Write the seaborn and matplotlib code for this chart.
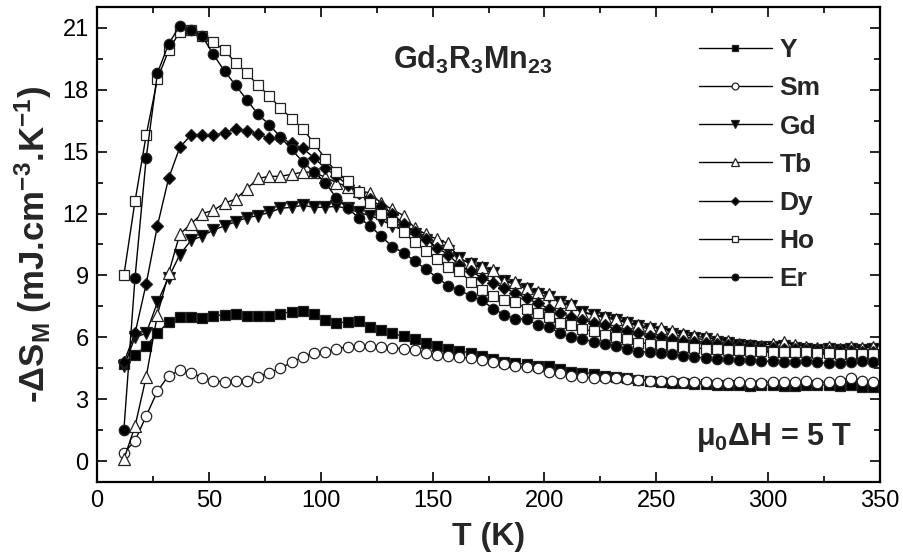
import pandas as pd
import seaborn as sns
import matplotlib.pyplot as plt
from matplotlib.ticker import MultipleLocator

# Temperatures (K), one point every 5 K
temps = list(range(12, 348, 5))

y_vals = [4.7, 5.15, 5.6, 6.2, 6.75, 7.0, 7.0, 6.95, 7.05, 7.1, 7.15, 7.05, 7.05, 7.05, 7.15, 7.25,
          7.3, 7.15, 6.85, 6.7, 6.75, 6.8, 6.5, 6.35, 6.2, 6.05, 5.9, 5.75, 5.6, 5.45, 5.35, 5.25,
          5.1, 4.95, 4.8, 4.75, 4.7, 4.6, 4.6, 4.45, 4.35, 4.3, 4.25, 4.15, 4.1, 4.05, 3.95, 3.9,
          3.85, 3.8, 3.8, 3.75, 3.75, 3.7, 3.7, 3.7, 3.65, 3.7, 3.7, 3.65, 3.65, 3.7, 3.7, 3.7,
          3.65, 3.7, 3.6, 3.6]
sm_vals = [0.4, 1.0, 2.2, 3.4, 4.15, 4.4, 4.3, 4.05, 3.9, 3.85, 3.9, 3.9, 4.1, 4.3, 4.5, 4.8,
           5.05, 5.25, 5.3, 5.45, 5.55, 5.6, 5.6, 5.55, 5.5, 5.45, 5.4, 5.25, 5.15, 5.1, 5.05, 5.0,
           4.9, 4.8, 4.7, 4.6, 4.55, 4.5, 4.35, 4.3, 4.15, 4.1, 4.05, 4.05, 4.05, 4.0, 3.95, 3.9,
           3.9, 3.9, 3.85, 3.85, 3.85, 3.8, 3.8, 3.85, 3.8, 3.8, 3.85, 3.85, 3.85, 3.9, 3.8, 3.85,
           3.9, 4.05, 3.9, 3.85]
gd_vals = [4.6, 6.0, 6.2, 7.7, 8.9, 10.0, 10.7, 10.9, 11.2, 11.4, 11.6, 11.8, 11.9, 12.05, 12.25, 12.3,
           12.4, 12.3, 12.3, 12.35, 12.25, 12.05, 11.9, 11.7, 11.4, 11.2, 11.0, 10.7, 10.45, 10.2, 9.85, 9.55,
           9.35, 9.1, 8.75, 8.55, 8.35, 8.1, 7.95, 7.7, 7.5, 7.25, 7.1, 6.95, 6.85, 6.7, 6.55, 6.4,
           6.25, 6.15, 6.05, 5.95, 5.9, 5.8, 5.75, 5.65, 5.6, 5.55, 5.55, 5.6, 5.5, 5.45, 5.4, 5.45,
           5.4, 5.45, 5.4, 5.45]
tb_vals = [0.1, 1.7, 4.1, 7.1, 9.1, 11.0, 11.5, 12.0, 12.15, 12.5, 12.7, 13.2, 13.7, 13.8, 13.8, 13.9,
           14.0, 14.0, 13.75, 13.5, 13.3, 13.1, 13.0, 12.5, 12.2, 11.9, 11.3, 11.0, 10.75, 10.55, 9.8, 9.6,
           9.4, 9.25, 8.7, 8.7, 8.4, 8.2, 8.1, 7.7, 7.6, 7.2, 7.1, 7.0, 6.9, 6.75, 6.6, 6.5,
           6.45, 6.3, 6.15, 6.05, 6.0, 5.9, 5.85, 5.7, 5.65, 5.6, 5.7, 5.8, 5.65, 5.55, 5.5, 5.55,
           5.45, 5.55, 5.5, 5.55]
dy_vals = [4.8, 6.2, 8.6, 11.4, 13.7, 15.2, 15.8, 15.8, 15.8, 15.9, 16.1, 16.0, 15.85, 15.65, 15.65, 15.4,
           15.15, 14.7, 14.2, 13.8, 13.4, 13.0, 12.7, 12.35, 12.0, 11.5, 11.1, 10.75, 10.35, 10.0, 9.5, 9.2,
           8.9, 8.65, 8.4, 8.15, 7.9, 7.65, 7.4, 7.2, 7.0, 6.85, 6.7, 6.6, 6.4, 6.3, 6.2, 6.05,
           6.0, 5.9, 5.85, 5.8, 5.75, 5.7, 5.65, 5.6, 5.55, 5.5, 5.5, 5.45, 5.45, 5.4, 5.4, 5.35,
           5.35, 5.35, 5.3, 5.3]
ho_vals = [9.0, 12.6, 15.8, 18.5, 19.9, 20.8, 20.9, 20.6, 20.3, 19.9, 19.3, 18.8, 18.2, 17.7, 17.1, 16.6,
           16.1, 15.4, 14.65, 14.0, 13.55, 13.05, 12.5, 12.0, 11.6, 11.1, 10.6, 10.2, 9.8, 9.4, 9.2, 8.7,
           8.3, 8.0, 7.8, 7.7, 7.4, 7.2, 7.0, 6.7, 6.6, 6.4, 6.3, 6.1, 6.0, 5.9, 5.75, 5.7,
           5.65, 5.6, 5.55, 5.5, 5.45, 5.45, 5.4, 5.4, 5.35, 5.35, 5.3, 5.3, 5.3, 5.3, 5.25, 5.25,
           5.2, 5.2, 5.2, 5.2]
er_vals = [1.5, 8.9, 14.7, 18.8, 20.2, 21.1, 20.9, 20.6, 19.7, 18.9, 18.2, 17.5, 16.8, 16.3, 15.7, 15.1,
           14.5, 14.0, 13.5, 12.75, 12.25, 11.8, 11.4, 10.9, 10.4, 10.1, 9.7, 9.3, 8.9, 8.5, 8.3, 8.0,
           7.8, 7.4, 7.1, 6.9, 6.9, 6.6, 6.5, 6.2, 6.0, 5.9, 5.8, 5.7, 5.6, 5.45, 5.3, 5.3,
           5.25, 5.2, 5.1, 5.05, 5.0, 4.95, 4.95, 4.9, 4.9, 4.85, 4.85, 4.8, 4.8, 4.85, 4.8, 4.75,
           4.75, 4.8, 4.85, 4.8]

series = {'Y': y_vals, 'Sm': sm_vals, 'Gd': gd_vals, 'Tb': tb_vals,
          'Dy': dy_vals, 'Ho': ho_vals, 'Er': er_vals}
styles = {
    'Y': ('s', 'black'), 'Sm': ('o', 'white'), 'Gd': ('v', 'black'),
    'Tb': ('^', 'white'), 'Dy': ('D', 'black'), 'Ho': ('s', 'white'), 'Er': ('o', 'black'),
}

df = pd.concat([pd.DataFrame({'T': temps, 'dS': v, 'R': k}) for k, v in series.items()])

sns.set_theme(style='ticks')
plt.rcParams['font.family'] = ['Liberation Sans', 'DejaVu Sans']
plt.rcParams['mathtext.fontset'] = 'custom'
plt.rcParams['mathtext.rm'] = 'Liberation Sans'
plt.rcParams['mathtext.bf'] = 'Liberation Sans:bold'
plt.rcParams['mathtext.default'] = 'bf'

fig = plt.figure(figsize=(9.04, 5.58), dpi=100)
ax = fig.add_axes([0.1073, 0.1362, 0.8662, 0.8513])

for name in series:
    marker, face = styles[name]
    ms = 6.5 if marker == 'D' else 7.5
    if marker in ('^', 'v'):
        ms = 8.5
    sns.lineplot(data=df[df['R'] == name], x='T', y='dS', ax=ax, color='black',
                 linewidth=1.0, marker=marker, markersize=ms, markerfacecolor=face,
                 markeredgecolor='#222222', markeredgewidth=0.9, label=name)

ax.set_xlim(0, 350)
ax.set_ylim(-1, 22)
ax.xaxis.set_major_locator(MultipleLocator(50))
ax.xaxis.set_minor_locator(MultipleLocator(25))
ax.yaxis.set_major_locator(MultipleLocator(3))
ax.yaxis.set_minor_locator(MultipleLocator(1.5))
ax.tick_params(which='both', direction='in', top=True, right=True, width=1.2, colors='black')
ax.tick_params(which='major', length=7, labelsize=17, pad=6)
ax.tick_params(which='minor', length=4)
for s in ax.spines.values():
    s.set_linewidth(1.6)
    s.set_color('black')

ax.set_xlabel('T (K)', fontsize=23, fontweight='bold', labelpad=7)
ax.set_ylabel(r'-ΔS$_{M}$ (mJ.cm$^{-3}$.K$^{-1}$)', fontsize=25, fontweight='bold', labelpad=6)

ax.text(0.378, 0.869, r'Gd$_{3}$R$_{3}$Mn$_{23}$', transform=ax.transAxes,
        fontsize=22, fontweight='bold', va='baseline')
ax.text(0.765, 0.078, r'μ$_{0}$ΔH = 5 T', transform=ax.transAxes,
        fontsize=22, fontweight='bold', va='baseline')

leg = ax.legend(loc='upper left', bbox_to_anchor=(0.769, 0.934), frameon=False,
                prop={'weight': 'bold', 'size': 19}, handlelength=2.75,
                handletextpad=0.3, labelspacing=0.535, borderpad=0, borderaxespad=0,
                markerscale=0.65)

plt.savefig('out.png', dpi=100)
